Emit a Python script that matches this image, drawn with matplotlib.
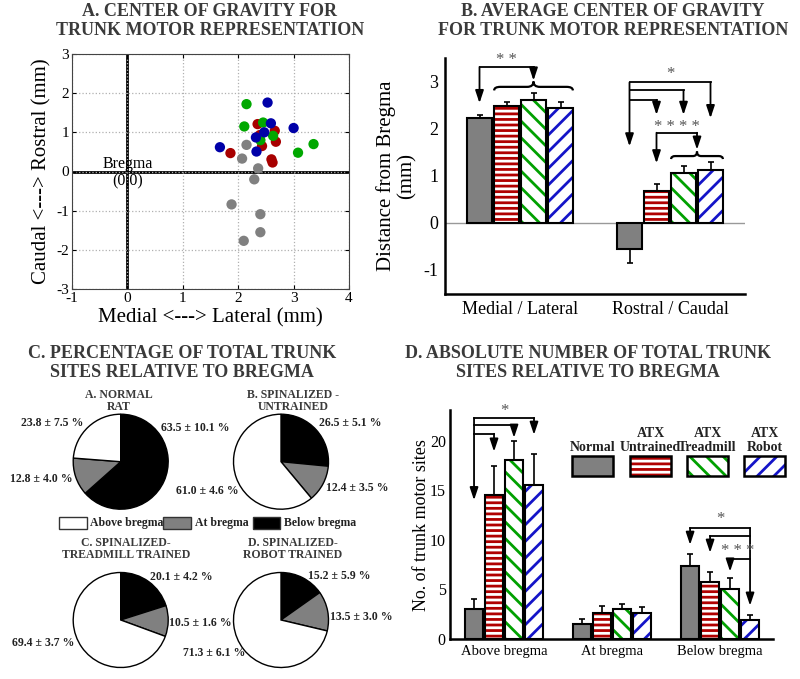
import numpy as np
import matplotlib
matplotlib.use('Agg')
import matplotlib.pyplot as plt
from matplotlib.patches import Rectangle, PathPatch
from matplotlib.path import Path

# ---- data ----
# A: centre of gravity per animal (mm)
cog_normal_x = [2.15, 2.07, 2.36, 2.29, 1.88, 2.40, 2.40, 2.10]
cog_normal_y = [0.68, 0.33, 0.08, -0.20, -0.84, -1.09, -1.55, -1.77]
cog_untr_x = [1.86, 2.35, 2.66, 2.68, 2.43, 2.60, 2.62, 2.39]
cog_untr_y = [0.47, 1.21, 1.04, 0.76, 0.65, 0.31, 0.23, 0.93]
cog_tread_x = [2.15, 2.11, 2.45, 2.63, 3.08, 3.36, 2.40]
cog_tread_y = [1.72, 1.15, 1.25, 0.91, 0.48, 0.70, 0.80]
cog_robot_x = [2.53, 2.59, 3.00, 2.47, 2.32, 1.67, 2.33]
cog_robot_y = [1.76, 1.23, 1.11, 1.00, 0.87, 0.62, 0.51]

# B: average centre of gravity
b_groups = ['Medial / Lateral', 'Rostral / Caudal']
b_normal = [2.22, -0.56]
b_normal_err = [0.07, 0.30]
b_untr = [2.47, 0.67]
b_untr_err = [0.09, 0.15]
b_tread = [2.60, 1.05]
b_tread_err = [0.15, 0.16]
b_robot = [2.44, 1.11]
b_robot_err = [0.13, 0.17]

# C: percentage of sites
pie_titles = ['A. NORMAL\nRAT', 'B. SPINALIZED -\nUNTRAINED',
              'C. SPINALIZED-\nTREADMILL TRAINED', 'D. SPINALIZED-\nROBOT TRAINED']
pct_above = [23.8, 61.0, 69.4, 71.3]
pct_above_sd = [7.5, 4.6, 3.7, 6.1]
pct_at = [12.8, 12.4, 10.5, 13.5]
pct_at_sd = [4.0, 3.5, 1.6, 3.0]
pct_below = [63.5, 26.5, 20.1, 15.2]
pct_below_sd = [10.1, 5.1, 4.2, 5.9]

# D: absolute number of sites
d_regions = ['Above bregma', 'At bregma', 'Below bregma']
d_normal = [3.0, 1.55, 7.4]
d_normal_err = [1.0, 0.5, 1.15]
d_untr = [14.5, 2.65, 5.8]
d_untr_err = [3.0, 0.65, 1.0]
d_tread = [18.1, 3.0, 5.05]
d_tread_err = [1.9, 0.57, 1.1]
d_robot = [15.5, 2.65, 1.9]
d_robot_err = [3.15, 0.58, 0.5]

# ---- style ----
plt.rcParams['font.family'] = ['Liberation Serif', 'DejaVu Serif']
plt.rcParams['hatch.linewidth'] = 2.0
plt.rcParams['axes.unicode_minus'] = False
W, H = 800, 679
TITLE_C = '#3a3a3a'
GRAY = '#808080'
RED = '#b00000'
GREEN = '#00a000'
BLUE = '#1414c8'
bar_styles = [(GRAY, None), (RED, '---'), (GREEN, '\\\\'), (BLUE, '//')]


def box(l, t, r, b):
    return [l / W, 1 - b / H, (r - l) / W, (b - t) / H]


def fx(px):
    return px / W


def fy(py):
    return 1 - py / H


def hatched_bars(ax, x, h, width, color, hatch):
    if hatch is None:
        ax.bar(x, h, width, color=color, edgecolor='black', linewidth=1.5, zorder=2)
    else:
        ax.bar(x, h, width, color='white', edgecolor=color, hatch=hatch, linewidth=0, zorder=2)
        ax.bar(x, h, width, fill=False, edgecolor='black', linewidth=1.5, zorder=3)


def arrow(ax, x, y0, y1):
    ax.annotate('', xy=(x, y1), xytext=(x, y0),
                arrowprops=dict(arrowstyle='-|>,head_length=0.75,head_width=0.25',
                                mutation_scale=10, lw=1.3, color='black',
                                shrinkA=0, shrinkB=0), zorder=5)


def brace(ax, x0, x1, yb, yt):
    xc = (x0 + x1) / 2
    ym = yb + 0.4 * (yt - yb)
    d = 0.08 * (x1 - x0)
    verts = [(x0, yb), (x0, ym), (x0 + d, ym), (xc - d, ym), (xc, ym), (xc, yt),
             (xc, ym), (xc + d, ym), (x1 - d, ym), (x1, ym), (x1, yb)]
    codes = [Path.MOVETO, Path.CURVE3, Path.CURVE3, Path.LINETO, Path.CURVE3, Path.CURVE3,
             Path.CURVE3, Path.CURVE3, Path.LINETO, Path.CURVE3, Path.CURVE3]
    ax.add_patch(PathPatch(Path(verts, codes), fill=False, lw=1.6, color='black', zorder=5))


def stars(ax, x, y, s):
    ax.text(x, y, s, ha='center', va='center', fontsize=12, color='#555555', zorder=6)


fig = plt.figure(figsize=(W / 100, H / 100), dpi=100)

# ---- titles ----
title_kw = dict(ha='center', va='center', fontsize=13, fontweight='bold',
                color=TITLE_C, linespacing=1.15)
fig.text(fx(210), fy(21), 'A. CENTER OF GRAVITY FOR\nTRUNK MOTOR REPRESENTATION', **title_kw)
fig.text(fx(613), fy(21), 'B. AVERAGE CENTER OF GRAVITY\nFOR TRUNK MOTOR REPRESENTATION', **title_kw)
fig.text(fx(182), fy(363), 'C. PERCENTAGE OF TOTAL TRUNK\nSITES RELATIVE TO BREGMA', **title_kw)
fig.text(fx(588), fy(363), 'D. ABSOLUTE NUMBER OF TOTAL TRUNK\nSITES RELATIVE TO BREGMA', **title_kw)

# ---- A: scatter ----
axA = fig.add_axes(box(72, 54, 349, 289))
axA.set_xlim(-1, 4)
axA.set_ylim(-3, 3)
axA.set_xticks(range(-1, 5))
axA.set_yticks(range(-3, 4))
axA.grid(True, linestyle=':', color='#b0b0b0', linewidth=0.9)
axA.axhline(0, color='black', lw=2, zorder=1)
axA.axvline(0, color='black', lw=2, zorder=1)
for xs, ys, c in [(cog_normal_x, cog_normal_y, GRAY), (cog_untr_x, cog_untr_y, '#a80000'),
                  (cog_tread_x, cog_tread_y, '#00a800'), (cog_robot_x, cog_robot_y, '#0000a8')]:
    axA.scatter(xs, ys, s=55, color=c, edgecolors='none', zorder=3)
axA.tick_params(direction='in', length=3, labelsize=11, top=True, right=True, pad=2)
for s in axA.spines.values():
    s.set_color('#444444')
    s.set_linewidth(0.8)
axA.text(0, 0.2, 'Bregma', ha='center', va='center', fontsize=11.5)
axA.text(0, -0.25, '(0,0)', ha='center', va='center', fontsize=11.5)
fig.text(fx(210), fy(318), 'Medial <---> Lateral (mm)', ha='center', va='center', fontsize=15)
fig.text(fx(42), fy(171), 'Caudal <---> Rostral (mm)', ha='center', va='center',
         fontsize=15, rotation=90)

# ---- B: average COG bars ----
axB = fig.add_axes(box(445, 58, 745, 294))
step_b, w_b = 0.18, 0.165
off_b = (np.arange(4) - 1.5) * step_b
gx_b = np.arange(1, len(b_groups) + 1)
b_vals = [b_normal, b_untr, b_tread, b_robot]
b_errs = [b_normal_err, b_untr_err, b_tread_err, b_robot_err]
for i, (vals, errs) in enumerate(zip(b_vals, b_errs)):
    col, hat = bar_styles[i]
    xs = gx_b + off_b[i]
    hatched_bars(axB, xs, vals, w_b, col, hat)
    vals = np.array(vals)
    errs = np.array(errs)
    lo = np.where(vals < 0, errs, 0)
    hi = np.where(vals >= 0, errs, 0)
    axB.errorbar(xs, vals, yerr=[lo, hi], fmt='none', ecolor='black', elinewidth=1.2,
                 capsize=2.5, capthick=1.2, zorder=4)
axB.axhline(0, color='#999999', lw=1, zorder=1)
axB.set_xlim(0.5, 2.5)
axB.set_ylim(-1.52, 3.5)
axB.set_yticks([-1, 0, 1, 2, 3])
axB.set_xticks(gx_b)
axB.set_xticklabels(b_groups)
axB.tick_params(length=0, labelsize=13, pad=5)
for s in ['top', 'right']:
    axB.spines[s].set_visible(False)
for s in ['left', 'bottom']:
    axB.spines[s].set_linewidth(1.8)
fig.text(fx(396), fy(176), 'Distance from Bregma\n(mm)', ha='center', va='center',
         fontsize=15, rotation=90, linespacing=1.1)

# annotations, Medial / Lateral
x0, x2 = gx_b[0] + off_b[0], gx_b[0] + off_b[2]
axB.plot([x0, x2], [3.31, 3.31], color='black', lw=1.3, zorder=5)
arrow(axB, x0, 3.31, 2.54)
arrow(axB, x2, 3.31, 3.02)
brace(axB, gx_b[0] + off_b[1] - w_b / 2, gx_b[0] + off_b[3] + w_b / 2, 2.81, 3.0)
stars(axB, (x0 + x2) / 2, 3.46, '* *')
# annotations, Rostral / Caudal
xr = gx_b[1] + off_b
arrow(axB, xr[0], 2.98, 1.62)
for yl, k, ya in [(2.98, 3, 2.22), (2.81, 2, 2.29), (2.61, 1, 2.29)]:
    axB.plot([xr[0], xr[k]], [yl, yl], color='black', lw=1.3, zorder=5)
    arrow(axB, xr[k], yl, ya)
stars(axB, (xr[0] + xr[3]) / 2, 3.16, '*')
xb = (xr[2] + xr[3]) / 2
axB.plot([xr[1], xb], [1.91, 1.91], color='black', lw=1.3, zorder=5)
arrow(axB, xr[1], 1.91, 1.26)
arrow(axB, xb, 1.91, 1.55)
brace(axB, xr[2] - w_b / 2, xr[3] + w_b / 2, 1.35, 1.51)
stars(axB, (xr[1] + xb) / 2, 2.04, '* * * *')

# ---- C: pies ----
pie_centers = [(120.7, 461.7), (281, 461.7), (120.7, 620), (281, 620)]
R = 47.5
title_pos = [(119, 401), (293, 401), (126, 549), (293, 549)]
lab_pos = [[(52, 423), (41, 479), (195, 428)],
           [(207, 491), (357, 488), (350, 423)],
           [(43, 643), (200, 623), (181, 577)],
           [(214, 653), (361, 617), (339, 576)]]
for i, (cx, cy) in enumerate(pie_centers):
    ax = fig.add_axes(box(cx - R, cy - R, cx + R, cy + R))
    vals = [pct_below[i], pct_at[i], pct_above[i]]
    wedges, _ = ax.pie(vals, colors=['black', GRAY, 'white'], startangle=90,
                       counterclock=False, wedgeprops=dict(edgecolor='black', linewidth=1))
    for wdg in wedges:
        wdg.set_clip_on(False)
    ax.set_xlim(-1, 1)
    ax.set_ylim(-1, 1)
    ax.axis('off')
    fig.text(fx(title_pos[i][0]), fy(title_pos[i][1]), pie_titles[i], ha='center', va='center',
             fontsize=8.5, fontweight='bold', color=TITLE_C, linespacing=1.05)
    texts = [(pct_above[i], pct_above_sd[i]), (pct_at[i], pct_at_sd[i]),
             (pct_below[i], pct_below_sd[i])]
    for (v, sd), (lx, ly) in zip(texts, lab_pos[i]):
        fig.text(fx(lx), fy(ly), f'{v:.1f} \u00b1 {sd:.1f} %', ha='center', va='center',
                 fontsize=8.5, fontweight='bold', color='#222222')

# pie legend
for (l, r, fc), lab, tx in zip([(59, 87, 'white'), (163, 191, GRAY), (253, 280, 'black')],
                               ['Above bregma', 'At bregma', 'Below bregma'], [90, 195, 284]):
    fig.add_artist(Rectangle((fx(l), fy(529)), (r - l) / W, 12 / H, transform=fig.transFigure,
                             facecolor=fc, edgecolor='#333333', linewidth=1))
    fig.text(fx(tx), fy(523), lab, ha='left', va='center', fontsize=8.5,
             fontweight='bold', color='#222222')

# ---- D: absolute numbers ----
axD = fig.add_axes(box(450, 410, 773, 639))
step_d, w_d = 0.185, 0.167
off_d = (np.arange(4) - 1.5) * step_d
gx_d = np.arange(1, len(d_regions) + 1)
d_vals = [d_normal, d_untr, d_tread, d_robot]
d_errs = [d_normal_err, d_untr_err, d_tread_err, d_robot_err]
for i, (vals, errs) in enumerate(zip(d_vals, d_errs)):
    col, hat = bar_styles[i]
    xs = gx_d + off_d[i]
    hatched_bars(axD, xs, vals, w_d, col, hat)
    axD.errorbar(xs, vals, yerr=[np.zeros(len(errs)), errs], fmt='none', ecolor='black',
                 elinewidth=1.2, capsize=2.5, capthick=1.2, zorder=4)
axD.set_xlim(0.5, 3.49)
axD.set_ylim(0, 23.1)
axD.set_yticks([0, 5, 10, 15, 20])
axD.set_xticks(gx_d)
axD.set_xticklabels(d_regions, fontsize=10.5)
axD.tick_params(axis='y', length=0, labelsize=11.5, pad=3)
axD.tick_params(axis='x', length=0, pad=4)
for s in ['top', 'right']:
    axD.spines[s].set_visible(False)
for s in ['left', 'bottom']:
    axD.spines[s].set_linewidth(1.8)
fig.text(fx(421), fy(525), 'No. of trunk motor sites', ha='center', va='center',
         fontsize=13, rotation=90)

# annotations, above bregma
xa = gx_d[0] + off_d
arrow(axD, xa[0], 22.3, 14.0)
for yl, k, ya in [(22.3, 3, 20.6), (21.6, 2, 20.3), (20.7, 1, 18.9)]:
    axD.plot([xa[0], xa[k]], [yl, yl], color='black', lw=1.3, zorder=5)
    arrow(axD, xa[k], yl, ya)
stars(axD, (xa[0] + xa[3]) / 2, 22.95, '*')
# annotations, below bregma
xw = gx_d[2] + off_d
arrow(axD, xw[3], 11.2, 3.36)
for yl, k, ya in [(11.2, 0, 9.5), (10.4, 1, 8.7), (8.06, 2, 6.8)]:
    axD.plot([xw[k], xw[3]], [yl, yl], color='black', lw=1.3, zorder=5)
    arrow(axD, xw[k], yl, ya)
stars(axD, (xw[0] + xw[3]) / 2, 12.1, '*')
stars(axD, 3.16, 8.85, '* * *')

# D legend (labels above the swatches)
leg_names = ['Normal', 'ATX\nUntrained', 'ATX\nTreadmill', 'ATX\nRobot']
leg_x = [(572, 613), (630, 671), (687, 728), (744, 785)]
for (l, r), name, (col, hat) in zip(leg_x, leg_names, bar_styles):
    rect_kw = dict(transform=fig.transFigure)
    if hat is None:
        fig.add_artist(Rectangle((fx(l), fy(476)), (r - l) / W, 20 / H, facecolor=col,
                                 edgecolor='black', linewidth=1.8, **rect_kw))
    else:
        fig.add_artist(Rectangle((fx(l), fy(476)), (r - l) / W, 20 / H, facecolor='white',
                                 edgecolor=col, hatch=hat, linewidth=0, **rect_kw))
        fig.add_artist(Rectangle((fx(l), fy(476)), (r - l) / W, 20 / H, fill=False,
                                 edgecolor='black', linewidth=1.8, **rect_kw))
    fig.text(fx((l + r) / 2), fy(454), name, ha='center', va='bottom', fontsize=10,
             fontweight='bold', color='#222222', linespacing=1.1)

fig.savefig('out.png', dpi=100, facecolor='white')
